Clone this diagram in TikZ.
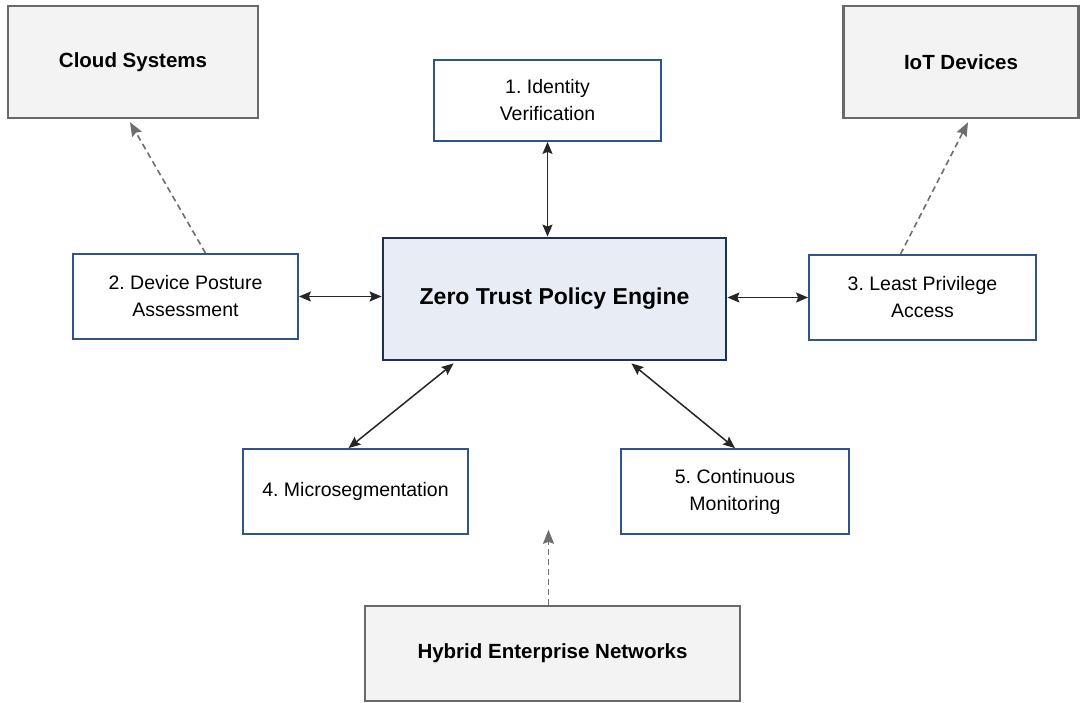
\documentclass[tikz,border=0pt]{standalone}
\usepackage{fontspec}
\setmainfont{Liberation Sans}
\usetikzlibrary{arrows.meta,calc}
\definecolor{bluebd}{RGB}{45,85,140}
\definecolor{navybd}{RGB}{25,50,85}
\definecolor{engfill}{RGB}{232,237,245}
\definecolor{grayfill}{RGB}{243,243,243}
\definecolor{graybd}{RGB}{105,105,105}
\definecolor{dashcol}{RGB}{110,110,110}
\tikzset{
  stepbox/.style={draw=bluebd, line width=1.8pt, fill=white, align=center,
    font=\fontsize{19.5}{27}\selectfont, inner sep=0pt},
  ctxbox/.style={draw=graybd, line width=2.4pt, fill=grayfill, align=center,
    font=\fontsize{20.5}{26}\selectfont\bfseries, inner sep=0pt},
  engbox/.style={draw=navybd, line width=2.8pt, fill=engfill, align=center,
    font=\fontsize{23}{28}\selectfont\bfseries, inner sep=0pt},
  link/.style={{Stealth[length=12pt,width=10pt,inset=2pt]}-{Stealth[length=12pt,width=10pt,inset=2pt]}, line width=1.5pt, draw=black!85},
  dlink/.style={-{Stealth[length=14pt,width=11pt,inset=2pt]}, line width=1.6pt, draw=dashcol, dash pattern=on 6pt off 4pt}
}
\begin{document}
\frenchspacing
\begin{tikzpicture}[x=1pt,y=-1pt]
\useasboundingbox (0,0) rectangle (1081,702);
\node[ctxbox, minimum width=250pt, minimum height=112pt] (cloud) at (133,62) {Cloud Systems};
\node[ctxbox, minimum width=235pt, minimum height=112pt] (iot) at (961,62) {IoT Devices};
\node[stepbox, minimum width=227pt, minimum height=81pt] (id) at (547.5,100.5) {1. Identity\\Verification};
\node[stepbox, minimum width=225pt, minimum height=85pt] (dev) at (185.5,296.5) {2. Device Posture\\Assessment};
\node[engbox, minimum width=343pt, minimum height=122pt] (eng) at (554.5,299) {Zero Trust Policy Engine};
\node[stepbox, minimum width=227pt, minimum height=85pt] (least) at (922.5,297.5) {3. Least Privilege\\Access};
\node[stepbox, minimum width=225pt, minimum height=85pt] (micro) at (355.5,491.5) {4. Microsegmentation};
\node[stepbox, minimum width=228pt, minimum height=85pt] (cont) at (735,491.5) {5. Continuous\\Monitoring};
\node[ctxbox, minimum width=375pt, minimum height=95pt] (hyb) at (552.5,653.5) {Hybrid Enterprise Networks};
% solid bidirectional links
\draw[link] (id.south) -- (eng.north -| id.south);
\draw[link] (dev.east) -- (eng.west |- dev.east);
\draw[link] (eng.east |- least.west) -- (least.west);
\draw[link] ([xshift=72pt,yshift=-2pt]eng.south west) -- ([xshift=-7pt]micro.north);
\draw[link] ([xshift=-96pt,yshift=-2pt]eng.south east) -- (cont.north);
% dashed links
\draw[dlink] ([xshift=20pt]dev.north) -- ([xshift=-3pt,yshift=-3pt]cloud.south);
\draw[dlink] ([xshift=-22pt]least.north) -- ([xshift=7pt,yshift=-3pt]iot.south);
\coordinate (hybtip) at ([xshift=-4pt,yshift=75pt]hyb.north);
\draw[dlink] ([xshift=-4pt]hyb.north) -- (hybtip);
\end{tikzpicture}
\end{document}
